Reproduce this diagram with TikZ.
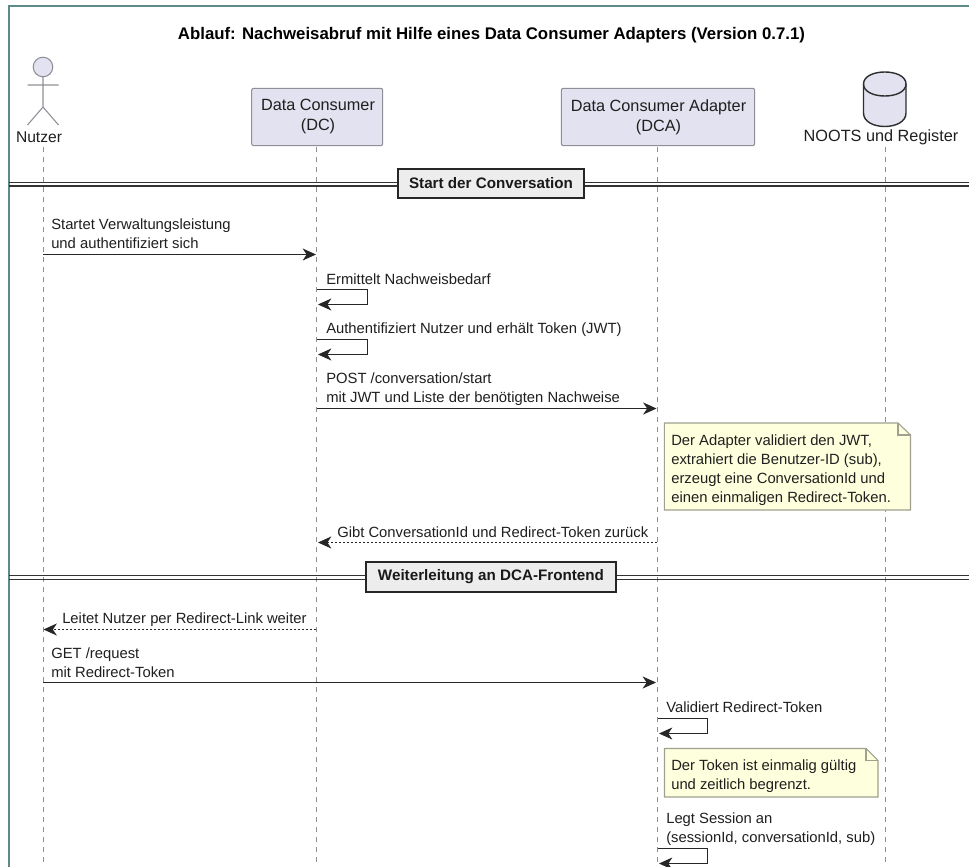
\documentclass[tikz,border=0pt]{standalone}
\usepackage{fontspec}
\setmainfont{Liberation Sans}
\usetikzlibrary{arrows.meta}
\definecolor{frameC}{HTML}{5F8A8B}
\definecolor{partC}{HTML}{E2E2F0}
\definecolor{partL}{HTML}{8F8F98}
\definecolor{noteC}{HTML}{FEFFDD}
\definecolor{noteL}{HTML}{A0A090}
\definecolor{lifeC}{HTML}{909090}
\definecolor{dbL}{HTML}{2E2E2E}
\definecolor{txtC}{HTML}{1F1F1F}
\tikzset{
  x=0.75pt,y=-0.75pt,
  txt/.style={inner sep=0pt,text=txtC,font=\fontsize{11.1}{14.2}\selectfont,align=left},
  head/.style={inner sep=0pt,text=txtC,font=\fontsize{12.2}{15}\selectfont,align=center},
  partbox/.style={draw=partL,fill=partC,rounded corners=1.5pt,line width=0.8pt},
  life/.style={lifeC,line width=0.7pt,dash pattern=on 3.75pt off 3.75pt},
  msg/.style={draw=black!85,line width=0.75pt,-{Stealth[length=10pt,width=9pt,inset=3pt]}},
  ret/.style={msg,dash pattern=on 1.5pt off 1.5pt},
  notebox/.style={draw=noteL,fill=noteC,line width=0.8pt},
  divbox/.style={draw=black!85,fill=black!7,line width=1.5pt,inner sep=0pt,font=\fontsize{11.4}{13}\selectfont\bfseries,text=black!90,minimum height=22pt},
  divline/.style={draw=black!80,line width=0.9pt},
}
\begin{document}
\begin{tikzpicture}
\useasboundingbox (0,0) rectangle (969,866);
\fill[white] (0,0) rectangle (969,866);
\draw[frameC,line width=1.5pt] (9,880) -- (9,6) -- (980,6);
\node[inner sep=0pt,font=\fontsize{12.6}{15}\selectfont\bfseries,text=black] (title) at (491.5,35) {Ablauf: Nachweisabruf mit Hilfe eines Data Consumer Adapters (Version 0.7.1)};
% participants
\node[partbox,minimum width=98.25pt,minimum height=43pt,inner sep=0pt] (dcbox) at (317.2,117) {};
\node[head] (dc) at (318,117) {Data Consumer\\(DC)};
\node[partbox,minimum width=145pt,minimum height=43pt,inner sep=0pt] (dcabox) at (658,117) {};
\node[head] (dca) at (658.5,117) {Data Consumer Adapter\\(DCA)};
% actor
\draw[partL,fill=partC,line width=0.8pt] (43,67) circle (9.8);
\draw[partL,line width=0.8pt] (43,77) -- (43,107) (27.5,85) -- (58.5,85) (27.5,125) -- (43,107) -- (58.5,125);
\node[head,font=\fontsize{11.7}{15}\selectfont] (nutzer) at (39,137) {Nutzer};
% database
\draw[dbL,fill=partC,line width=1.05pt] (863.5,84) .. controls (863.5,68) and (906,68) .. (906,84) -- (906,113) .. controls (906,131) and (863.5,131) .. (863.5,113) -- cycle;
\draw[dbL,line width=1.05pt] (863.5,84) .. controls (863.5,100) and (906,100) .. (906,84);
\node[head] (db) at (881,137) {NOOTS und Register};
% lifelines
\coordinate (L1) at (43,147);\coordinate (L1e) at (43,866);
\coordinate (L2) at (316.7,147);\coordinate (L2e) at (316.7,866);
\coordinate (L3) at (657.5,147);\coordinate (L3e) at (657.5,866);
\coordinate (L4) at (885,147);\coordinate (L4e) at (885,866);
\draw[life] (L1) -- (L1e);\draw[life] (L2) -- (L2e);\draw[life] (L3) -- (L3e);\draw[life] (L4) -- (L4e);
% dividers
\draw[divline] (9,182.5) -- (969,182.5) (9,186) -- (969,186);
\node[divbox,minimum width=139pt] (d1) at (491,183.5) {Start der Conversation\hspace{6pt}};
\draw[divline] (9,575.5) -- (969,575.5) (9,579.5) -- (969,579.5);
\node[divbox,minimum width=188pt] (d2) at (491,577) {Weiterleitung an DCA-Frontend\hspace{6pt}};
% messages
\coordinate (a1) at (43,254.5);\coordinate (b1) at (316,254.5);
\draw[msg] (a1) -- (b1);
\node[txt,anchor=north west] (m1) at (51,218.5) {Startet Verwaltungsleistung\\und authentifiziert sich};
% self
\coordinate (s1) at (317,289.5);
\draw[msg] (s1) -- ++(50,0) -- ++(0,15) -- ++(-49,0);
\node[txt,anchor=base west] (m2) at (326,284) {Ermittelt Nachweisbedarf};
\coordinate (s2) at (317,339.5);
\draw[msg] (s2) -- ++(50,0) -- ++(0,15) -- ++(-49,0);
\node[txt,anchor=base west] (m3) at (326,333.5) {Authentifiziert Nutzer und erhält Token (JWT)};
\coordinate (a2) at (317,408.5);\coordinate (b2) at (656.5,408.5);
\draw[msg] (a2) -- (b2);
\node[txt,anchor=north west] (m4) at (326,372.5) {POST /conversation/start\\mit JWT und Liste der benötigten Nachweise};
% note 1
\draw[notebox] (664.3,423) -- (898,423) -- (910.5,435) -- (910.5,510) -- (664.3,510) -- cycle;
\draw[notebox,fill=none] (898,423) -- (898,435) -- (910.5,435);
\node[txt,anchor=north west] (n1) at (671,434.5) {Der Adapter validiert den JWT,\\extrahiert die Benutzer-ID (sub),\\erzeugt eine ConversationId und\\einen einmaligen Redirect-Token.};
\coordinate (a3) at (657,542.5);\coordinate (b3) at (318,542.5);
\draw[ret] (a3) -- (b3);
\node[txt,anchor=base west] (m5) at (337,537) {Gibt ConversationId und Redirect-Token zurück};
\coordinate (a4) at (316,629.5);\coordinate (b4) at (43.5,629.5);
\draw[ret] (a4) -- (b4);
\node[txt,anchor=base west] (m6) at (62,623) {Leitet Nutzer per Redirect-Link weiter};
\coordinate (a5) at (43,682.5);\coordinate (b5) at (656,682.5);
\draw[msg] (a5) -- (b5);
\node[txt,anchor=north west] (m7) at (51,647.5) {GET /request\\mit Redirect-Token};
\coordinate (s3) at (658,718.5);
\draw[msg] (s3) -- ++(49,0) -- ++(0,15) -- ++(-48,0);
\node[txt,anchor=base west] (m8) at (666,712) {Validiert Redirect-Token};
\draw[notebox] (664.5,748.5) -- (866,748.5) -- (878,760.5) -- (878,797) -- (664.5,797) -- cycle;
\draw[notebox,fill=none] (866,748.5) -- (866,760.5) -- (878,760.5);
\node[txt,anchor=north west] (n2) at (671,759.5) {Der Token ist einmalig gültig\\und zeitlich begrenzt.};
\coordinate (s4) at (658,848.5);
\draw[msg] (s4) -- ++(49,0) -- ++(0,15) -- ++(-48,0);
\node[txt,anchor=north west] (m9) at (666,812.5) {Legt Session an\\(sessionId, conversationId, sub)};
\end{tikzpicture}
\end{document}
